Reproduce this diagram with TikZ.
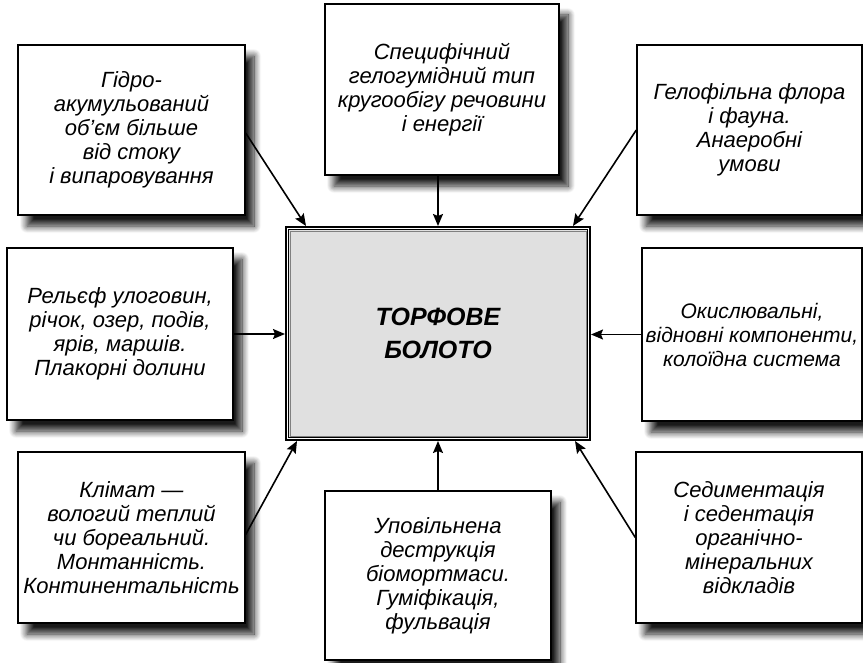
\documentclass[tikz,border=0pt]{standalone}
\usepackage{fontspec}
\setmainfont{Liberation Sans}
\usetikzlibrary{shadows.blur,arrows.meta,calc}
\begin{document}
\begin{tikzpicture}[x=1pt,y=-1pt,
  sidebox/.style={draw=black,line width=1.4pt,fill=white,inner sep=0pt,
    align=center,font=\fontsize{22}{24}\selectfont\itshape,
    blur shadow={shadow xshift=9pt,shadow yshift=-11pt,shadow blur radius=7pt,shadow opacity=90,shadow blur steps=12}},
  conn/.style={line width=1.6pt,-{Stealth[length=12pt,width=10pt,inset=2pt]}},
  mainbox/.style={draw=black,line width=2pt,inner sep=0pt,minimum width=304pt,minimum height=213pt}
]
\useasboundingbox (0,0) rectangle (863,663);

\node[sidebox,minimum width=227pt,minimum height=170pt] (A) at (131.5,130)
  {Гідро-\\акумульований\\об’єм більше\\від стоку\\і випаровування};
\node[sidebox,minimum width=234pt,minimum height=171pt] (B) at (442,89.5)
  {Специфічний\\гелогумідний тип\\кругообігу речовини\\і енергії};
\node[sidebox,minimum width=225pt,minimum height=170pt] (C) at (749.5,130)
  {Гелофільна флора\\і фауна.\\Анаеробні\\умови};
\node[sidebox,minimum width=226pt,minimum height=172pt] (D) at (120,334)
  {Рельєф улоговин,\\річок, озер, подів,\\ярів, маршів.\\Плакорні долини};
\node[sidebox,minimum width=220pt,minimum height=173pt,font=\fontsize{21}{24}\selectfont\itshape] (E) at (752,334.5)
  {Окислювальні,\\відновні компоненти,\\колоїдна система};
\node[sidebox,minimum width=227pt,minimum height=171pt] (F) at (131.5,537.5)
  {Клімат —\\вологий теплий\\чи бореальний.\\Монтанність.\\Континентальність};
\node[sidebox,minimum width=226pt,minimum height=169pt] (G) at (438,575.5)
  {Уповільнена\\деструкція\\біомортмаси.\\Гуміфікація,\\фульвація};
\node[sidebox,minimum width=226pt,minimum height=171pt] (H) at (749,537.5)
  {Седиментація\\і седентація\\органічно-\\мінеральних\\відкладів};

\node[mainbox] (M) at (438,333.5) {};
\draw[line width=0.9pt,fill=black!12] ($(M.north west)+(3.5,3.5)$) rectangle ($(M.south east)+(-3.5,-3.5)$);
\draw[line width=0.7pt,draw=black!50] ($(M.north west)+(5,5)$) rectangle ($(M.south east)+(-5,-5)$);
\node[font=\fontsize{25}{33}\selectfont\bfseries\itshape,align=center] (MT) at (M.center) {ТОРФОВЕ\\БОЛОТО};

\draw[conn] ($(A.east)+(0,3)$) -- ($(M.north west)+(21,0)$);
\draw[conn] (M.north |- B.south) -- (M.north);
\draw[conn] (C.west) -- ($(M.north east)+(-18,0)$);
\draw[conn] (D.east) -- (M.west |- D.east);
\draw[conn] (E.west) -- (M.east |- E.west);
\draw[conn] ($(F.east)+(0,-3)$) -- ($(M.south west)+(12,0)$);
\draw[conn] (M.south |- G.north) -- (M.south);
\draw[conn] (H.west) -- ($(M.south east)+(-16,0)$);
\end{tikzpicture}
\end{document}
